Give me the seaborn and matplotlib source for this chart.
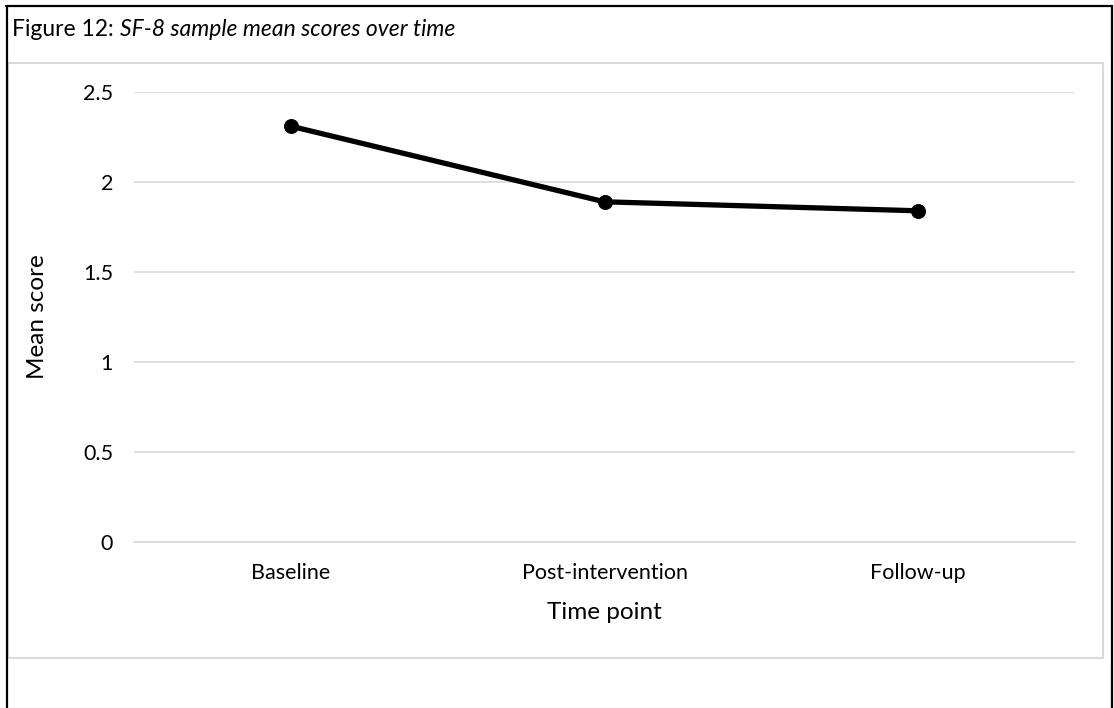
import matplotlib
matplotlib.use("Agg")
import matplotlib.pyplot as plt
from matplotlib.lines import Line2D
from matplotlib.patches import Rectangle
import seaborn as sns
import pandas as pd

# Chart data
time_points = ["Baseline", "Post-intervention", "Follow-up"]
mean_scores = [2.31, 1.89, 1.84]
y_ticks = [0, 0.5, 1, 1.5, 2, 2.5]
y_tick_labels = ["0", "0.5", "1", "1.5", "2", "2.5"]

sns.set_theme(style="white")
plt.rcParams["font.family"] = ["Lato", "DejaVu Sans"]

W, H = 1114, 708
fig = plt.figure(figsize=(W / 100, H / 100), dpi=100)
fig.patch.set_facecolor("white")

# Axes placed in pixel terms
left, right, top, bottom = 134, 1075, 92, 542
ax = fig.add_axes([left / W, 1 - bottom / H, (right - left) / W, (bottom - top) / H])

df = pd.DataFrame({"Time point": time_points, "Mean score": mean_scores})
sns.lineplot(data=df, x="Time point", y="Mean score", sort=False, ax=ax,
             color="black", linewidth=3.8, marker="o", markersize=10,
             markeredgecolor="black", markerfacecolor="black")

ax.set_xlim(-0.5, len(time_points) - 0.5)
ax.set_ylim(0, 2.5)
ax.set_yticks(y_ticks)
ax.set_yticklabels(y_tick_labels)
ax.yaxis.grid(True, color="#d9d9d9", linewidth=1.2)
ax.xaxis.grid(False)
ax.set_axisbelow(True)
for s in ["left", "right", "top"]:
    ax.spines[s].set_visible(False)
ax.spines["bottom"].set_color("#d9d9d9")
ax.spines["bottom"].set_linewidth(1.2)
ax.tick_params(axis="both", length=0, labelsize=15.5, colors="black")
ax.tick_params(axis="y", pad=15)
ax.tick_params(axis="x", pad=15)
ax.set_xlabel("Time point", fontsize=17.5, color="black", labelpad=14)
ax.set_ylabel("Mean score", fontsize=17.5, color="black", labelpad=25)
ax.set_facecolor("white")

# Chart frame (light grey)
fig.add_artist(Rectangle((8 / W, 1 - 658 / H), (1103 - 8) / W, (658 - 63) / H,
                         transform=fig.transFigure, fill=False,
                         edgecolor="#d9d9d9", linewidth=1.5))

# Outer black border: top, left, right
fig.add_artist(Line2D([6 / W, 1112 / W], [1 - 5.5 / H, 1 - 5.5 / H],
                      transform=fig.transFigure, color="black", linewidth=1.6))
fig.add_artist(Line2D([6.5 / W, 6.5 / W], [0, 1 - 5.5 / H],
                      transform=fig.transFigure, color="black", linewidth=1.6))
fig.add_artist(Line2D([1111.5 / W, 1111.5 / W], [0, 1 - 5.5 / H],
                      transform=fig.transFigure, color="black", linewidth=1.6))

# Caption: plain prefix followed by italic description
t1 = fig.text(12 / W, 1 - 30 / H, "Figure 12: ", fontsize=16.5, color="black",
              va="center", ha="left")
fig.canvas.draw()
bb = t1.get_window_extent()
fig.text(bb.x1 / W, 1 - 30 / H, "SF-8 sample mean scores over time", fontsize=16.5,
         style="italic", color="black", va="center", ha="left")

fig.savefig("out.png", dpi=100)
